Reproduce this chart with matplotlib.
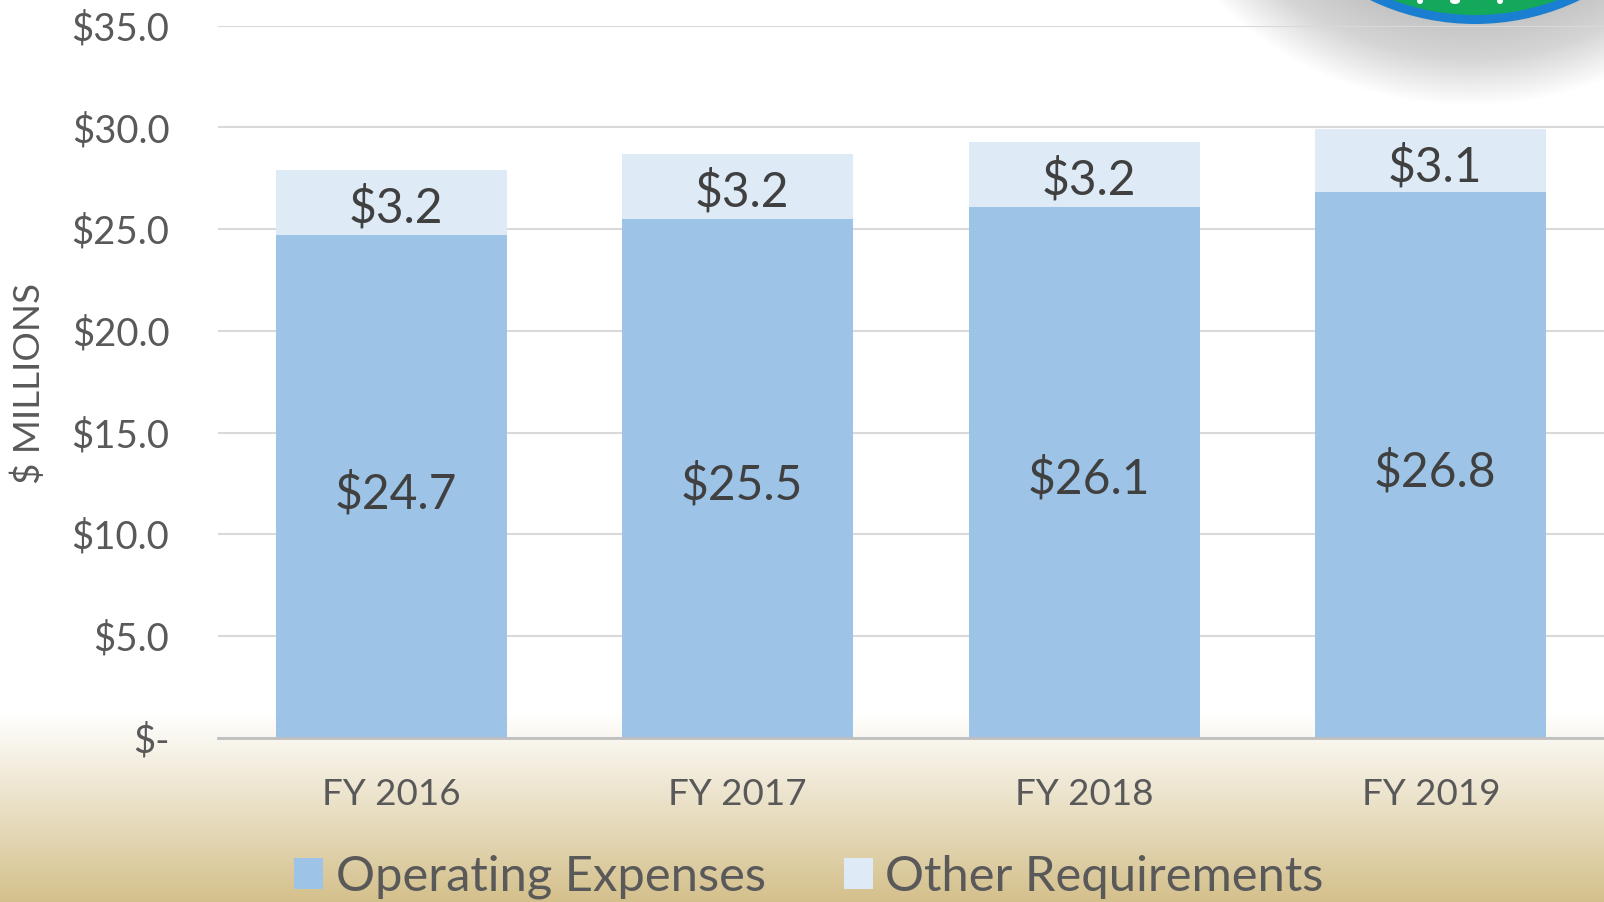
import numpy as np
import matplotlib
matplotlib.use("Agg")
import matplotlib.pyplot as plt
from matplotlib.patches import Ellipse, Patch

categories = ["FY 2016", "FY 2017", "FY 2018", "FY 2019"]
operating = [24.7, 25.5, 26.1, 26.8]
other = [3.2, 3.2, 3.2, 3.1]
yticks = [0, 5, 10, 15, 20, 25, 30, 35]
ytick_labels = ["$-", "$5.0", "$10.0", "$15.0", "$20.0", "$25.0", "$30.0", "$35.0"]
series_names = ["Operating Expenses", "Other Requirements"]

plt.rcParams['font.family'] = ['Lato', 'DejaVu Sans']

W, H = 1604, 902
fig = plt.figure(figsize=(W / 100, H / 100), dpi=100)

# background with gradient and logo
bg = fig.add_axes([0, 0, 1, 1], zorder=-1)
bg.set_xlim(0, W)
bg.set_ylim(H, 0)
bg.axis('off')
ys = np.arange(H)
t = np.clip((ys - 712) / (H - 712), 0, 1)
top = np.array([255, 255, 255]) / 255
bot = np.array([212, 192, 139]) / 255
cols = top[None, :] * (1 - t[:, None]) + bot[None, :] * t[:, None]
img = np.repeat(cols[:, None, :], 8, axis=1)
bg.imshow(img, extent=(0, W, H, 0), aspect='auto', zorder=0)

# logo soft shadow
for r in np.linspace(330, 242, 40):
    bg.add_patch(Ellipse((1470, -225), 2 * r * 1.05, 2 * r, color='#808080', alpha=0.012, lw=0, zorder=1))
bg.add_patch(Ellipse((1475, -218), 484, 484, color='#1a7fd0', lw=0, zorder=2))
bg.add_patch(Ellipse((1475, -218), 466, 466, color='#13a85a', lw=0, zorder=3))
for xx, w_ in [(1420, 6), (1455, 10), (1500, 6)]:
    bg.add_patch(Ellipse((xx, 1), w_, 6, color='white', lw=0, zorder=4))

ax = fig.add_axes([218 / W, 1 - 737.6 / H, (W - 218) / W, (737.6 - 25.7) / H])
ax.set_facecolor('none')
x = np.arange(len(categories))
width = 0.668
ax.bar(x, operating, width, color='#9DC3E6', label=series_names[0], zorder=2)
ax.bar(x, other, width, bottom=operating, color='#DEEBF7', label=series_names[1], zorder=2)

for xi, o, ot in zip(x, operating, other):
    ax.annotate(f"${o:.1f}", (xi, o / 2), xytext=(3, -5), textcoords='offset points',
                ha='center', va='center', fontsize=34.5, color='#404040', zorder=3)
    ax.annotate(f"${ot:.1f}", (xi, o + ot / 2), xytext=(3, -4), textcoords='offset points',
                ha='center', va='center', fontsize=34.5, color='#404040', zorder=3)

ax.set_xlim(-0.5, len(categories) - 0.5)
ax.set_ylim(0, 35)
ax.set_yticks(yticks)
ax.set_yticklabels(ytick_labels)
ax.set_xticks(x)
ax.set_xticklabels(categories)
ax.tick_params(axis='y', length=0, pad=35, labelsize=27.5, labelcolor='#595959')
ax.tick_params(axis='x', length=0, pad=29, labelsize=26.5, labelcolor='#595959')
ax.grid(axis='y', color='#D9D9D9', lw=1.5, zorder=0)
ax.set_axisbelow(True)
for s in ['left', 'right', 'top']:
    ax.spines[s].set_visible(False)
ax.spines['bottom'].set_color('#BFBFBF')
ax.spines['bottom'].set_linewidth(2)

fig.text(29 / W, 1 - 383 / H, "$ MILLIONS", rotation=90, ha='center', va='center', fontsize=26.5, color='#595959')

handles = [Patch(facecolor='#9DC3E6', label=series_names[0]), Patch(facecolor='#DEEBF7', label=series_names[1])]
fig.legend(handles=handles, loc='center', bbox_to_anchor=(809 / W, 1 - 877 / H), ncol=2, frameon=False,
           fontsize=35.2, labelcolor='#595959', handlelength=0.6, handleheight=0.6, handletextpad=0.25,
           columnspacing=1.6)

fig.savefig("out.png", dpi=100)
